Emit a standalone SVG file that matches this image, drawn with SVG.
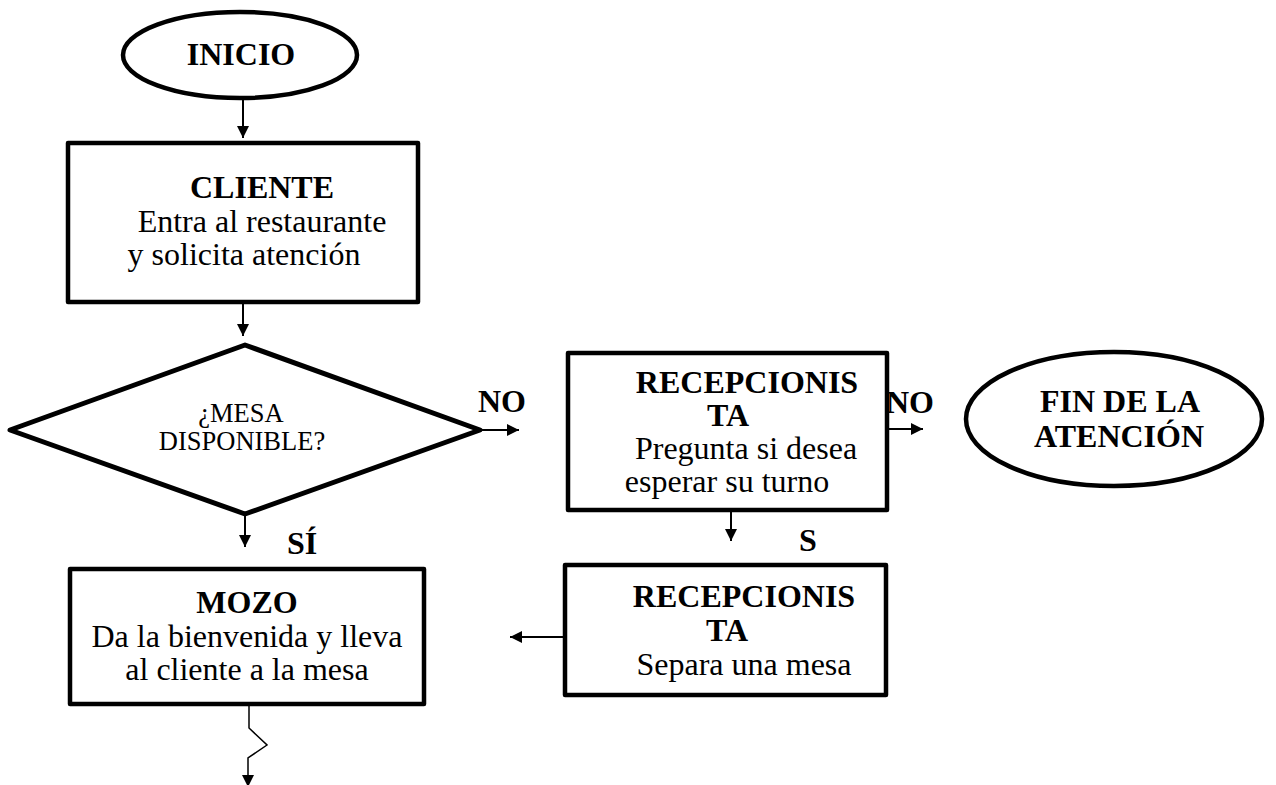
<svg xmlns="http://www.w3.org/2000/svg" width="1276" height="785" viewBox="0 0 1276 785">
  <style>
    .shape { fill: #ffffff; stroke: #000000; stroke-width: 4.5; stroke-linejoin: round; }
    .conn { fill: none; stroke: #000000; stroke-width: 2; }
    .zig { fill: none; stroke: #000000; stroke-width: 1.5; }
    text { font-family: "Liberation Serif", "Times New Roman", serif; fill: #000000; text-anchor: middle; }
    .b { font-weight: bold; font-size: 32px; }
    .r { font-size: 32px; }
    .s { font-size: 26.5px; }
  </style>
  <defs>
    <marker id="arrow" viewBox="0 0 12 12" refX="12" refY="6" markerWidth="12" markerHeight="12" markerUnits="userSpaceOnUse" orient="auto">
      <path d="M0,0 L12,6 L0,12 z" fill="#000000"/>
    </marker>
  </defs>

  <!-- connectors -->
  <g id="connectors">
    <line class="conn" x1="243" y1="100" x2="243" y2="138" marker-end="url(#arrow)"/>
    <line class="conn" x1="243" y1="304" x2="243" y2="336" marker-end="url(#arrow)"/>
    <line class="conn" x1="482" y1="430" x2="519" y2="430" marker-end="url(#arrow)"/>
    <line class="conn" x1="245" y1="515" x2="245" y2="547" marker-end="url(#arrow)"/>
    <line class="conn" x1="887" y1="429" x2="923" y2="429" marker-end="url(#arrow)"/>
    <line class="conn" x1="731" y1="512" x2="731" y2="541" marker-end="url(#arrow)"/>
    <line class="conn" x1="565" y1="637" x2="510" y2="637" marker-end="url(#arrow)"/>
    <polyline class="zig" points="249,706 249,728 267,745 248,758 248,787" marker-end="url(#arrow)"/>
    <text class="b" x="502" y="412">NO</text>
    <text class="b" x="302" y="554">SÍ</text>
    <text class="b" x="910" y="413">NO</text>
    <text class="b" x="808" y="551">S</text>
  </g>

  <!-- start terminal -->
  <g id="inicio">
    <ellipse class="shape" cx="240" cy="55" rx="117" ry="43"/>
    <text class="b" x="241" y="65">INICIO</text>
  </g>

  <!-- client enters -->
  <g id="cliente">
    <rect class="shape" x="68" y="143" width="350" height="159"/>
    <text class="b" x="262" y="198">CLIENTE</text>
    <text class="r" x="262" y="232">Entra al restaurante</text>
    <text class="r" x="244" y="265">y solicita atención</text>
  </g>

  <!-- table available? -->
  <g id="mesa-disponible">
    <polygon class="shape" points="10,430 245,345 480,430 245,514" style="stroke-width:5"/>
    <text class="s" x="241" y="422">¿MESA</text>
    <text class="s" x="242" y="450">DISPONIBLE?</text>
  </g>

  <!-- receptionist asks -->
  <g id="recepcionista-pregunta">
    <rect class="shape" x="568" y="353" width="319" height="157"/>
    <text class="b" x="747" y="393">RECEPCIONIS</text>
    <text class="b" x="728" y="426">TA</text>
    <text class="r" x="746" y="459">Pregunta si desea</text>
    <text class="r" x="727" y="492">esperar su turno</text>
  </g>

  <!-- end terminal -->
  <g id="fin">
    <ellipse class="shape" cx="1114" cy="419" rx="148" ry="67"/>
    <text class="b" x="1120" y="412">FIN DE LA</text>
    <text class="b" x="1119" y="447">ATENCIÓN</text>
  </g>

  <!-- receptionist reserves -->
  <g id="recepcionista-separa">
    <rect class="shape" x="565" y="565" width="321" height="130"/>
    <text class="b" x="744" y="607">RECEPCIONIS</text>
    <text class="b" x="727" y="641">TA</text>
    <text class="r" x="744" y="675">Separa una mesa</text>
  </g>

  <!-- waiter -->
  <g id="mozo">
    <rect class="shape" x="70" y="569" width="354" height="135"/>
    <text class="b" x="247" y="613">MOZO</text>
    <text class="r" x="247" y="647">Da la bienvenida y lleva</text>
    <text class="r" x="247" y="680">al cliente a la mesa</text>
  </g>
</svg>
